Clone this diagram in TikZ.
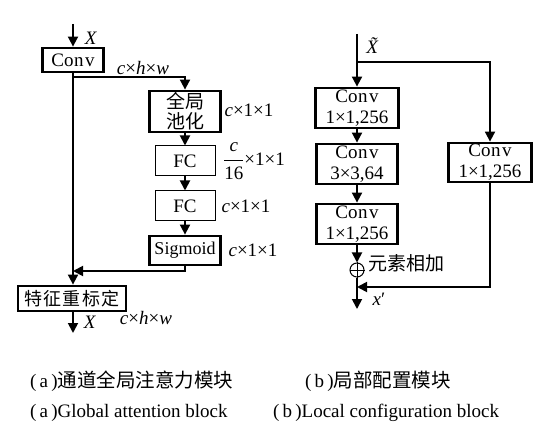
\documentclass[tikz,border=0pt]{standalone}
\usepackage{fontspec}
\setmainfont{Liberation Serif}
\newfontfamily\cjk{Noto Sans CJK SC}
\usetikzlibrary{arrows.meta}
\newcommand{\cv}{Co\kern0.5bp n\kern1.5bp v}
\begin{document}
\begin{tikzpicture}[x=1bp,y=-1bp,
  font=\fontsize{19bp}{21bp}\selectfont,
  thickbox/.style={draw,line width=2.8bp,inner sep=0pt,align=center},
  thinbox/.style={draw,line width=1bp,inner sep=0pt,align=center},
  arr/.style={line width=1.8bp,-{Triangle[length=10bp,width=10bp]}},
  lbl/.style={inner sep=0pt},
  cjkfont/.style={font=\cjk\fontsize{19bp}{20bp}\selectfont},
  captext/.style={inner sep=0pt,anchor=west}]
\useasboundingbox (0,0) rectangle (559,447);
% ---------- left ----------
\node[thickbox,minimum width=61bp,minimum height=24bp] (conv) at (73,60) {\cv};
\node[thickbox,minimum width=71bp,minimum height=41bp,cjkfont] (pool) at (185,111.5) {全局\\池化};
\node[thinbox,minimum width=60bp,minimum height=30bp] (fc1) at (185,161) {FC};
\node[thinbox,minimum width=60bp,minimum height=30bp] (fc2) at (185,206) {FC};
\node[thickbox,minimum width=71bp,minimum height=29bp,font=\fontsize{18bp}{20bp}\selectfont] (sig) at (185,250.5) {Sigmoid};
\node[thickbox,minimum width=108bp,minimum height=25bp,font=\cjk\fontsize{18bp}{20bp}\selectfont] (rec) at (72,298.5) {特\kern1.5bp 征\kern1.5bp 重\kern1.5bp 标\kern1.5bp 定};
\coordinate (inA) at (73,24);
\coordinate (brA) at (73,77);
\coordinate (jnA) at (73,271);
\coordinate (outA) at (73,333);
\draw[arr] (inA) -- (conv.north);
\draw[arr] (conv.south) -- (conv.south |- rec.north);
\draw[arr] (brA) -| (pool.north);
\draw[arr] (pool) -- (fc1);
\draw[arr] (fc1) -- (fc2);
\draw[arr] (fc2) -- (sig);
\draw[arr] (sig.south) |- (jnA);
\draw[arr] (rec.south -| outA) -- (outA);
\node[lbl] (xa) at (91,38) {\textit{X}};
\node[lbl] (chw1) at (143,68) {\textit{c}×\textit{h}×\textit{w}};
\node[lbl] (d1) at (249,110) {\textit{c}×1×1};
\node[lbl] (d2) at (254,161) {$\displaystyle\frac{\hbox{\textit{c}}}{\hbox{16}}$\hbox{×1×1}};
\node[lbl] (d3) at (246,206) {\textit{c}×1×1};
\node[lbl] (d4) at (253,250) {\textit{c}×1×1};
\node[lbl] (xb) at (90,322) {\textit{X}};
\node[lbl] (chw2) at (146,318) {\textit{c}×\textit{h}×\textit{w}};
% ---------- right ----------
\node[thickbox,minimum width=83bp,minimum height=40bp] (c1) at (357,108) {\cv\\1×1,256};
\node[thickbox,minimum width=81bp,minimum height=40bp] (c2) at (357,164) {\cv\\3×3,64};
\node[thickbox,minimum width=81bp,minimum height=40bp] (c3) at (357,224) {\cv\\1×1,256};
\node[draw,circle,line width=1bp,minimum size=14bp,inner sep=0pt] (plus) at (357,270) {};
\draw[line width=1bp] (plus.north) -- (plus.south) (plus.west) -- (plus.east);
\node[thickbox,minimum width=83bp,minimum height=39bp] (cr) at (490,162.5) {\cv\\1×1,256};
\coordinate (inB) at (357,34);
\coordinate (brB) at (357,62);
\coordinate (jnB) at (357,287);
\coordinate (outB) at (357,309);
\draw[arr] (inB) -- (c1.north);
\draw[arr] (brB) -| (cr.north);
\draw[arr] (c1) -- (c2);
\draw[arr] (c2) -- (c3);
\draw[arr] (c3) -- (plus);
\draw[arr] (cr.south) |- (jnB);
\draw[arr] (plus) -- (outB);
\node[lbl] (xt) at (376,46) {\textit{\~{X}}};
\node[lbl,cjkfont] (add) at (406,263) {元素相加};
\node[lbl] (xp) at (379,299) {\textit{x}′};
% ---------- captions ----------
\node[captext] (capa1) at (30,381) {(\,a\,)\cjk\fontsize{19.5bp}{22bp}\selectfont 通道全局注意力模块};
\node[captext] (capb1) at (305,381) {(\,b\,)\cjk\fontsize{19.5bp}{22bp}\selectfont 局部配置模块};
\node[captext] (capa2) at (30,413) {(\,a\,)Global attention block};
\node[captext] (capb2) at (273,413) {(\,b\,)Local configuration block};
\end{tikzpicture}
\end{document}
